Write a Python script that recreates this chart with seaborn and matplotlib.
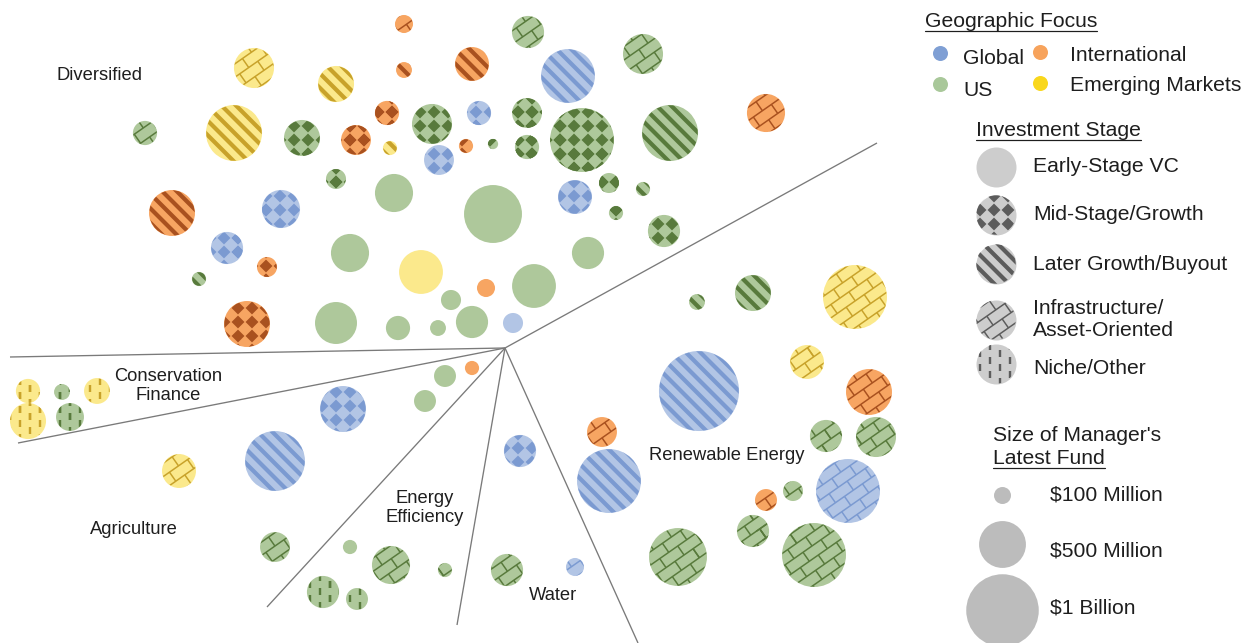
import numpy as np
import pandas as pd
import matplotlib
matplotlib.use("Agg")
import matplotlib.pyplot as plt
import seaborn as sns
from matplotlib.path import Path
from matplotlib.collections import LineCollection, PolyCollection

# ---------------- data ----------------
# layout position of each manager bubble (chart pixel space), fund size ($M), geographic focus, stage
bx = [404, 528, 254, 336, 404, 472, 568, 643, 145, 234, 302, 356, 387, 390, 432, 479, 527, 582, 670, 766,
      439, 466, 493, 527, 336, 394, 493, 172, 281, 575, 609, 643, 616, 664, 227, 350, 588, 199, 267, 421,
      534, 486, 451, 247, 336, 398, 438, 472, 513,
      28, 62, 97, 28, 70,
      343, 275, 179, 275, 350, 323, 357,
      445, 472, 425, 391, 445,
      520, 507, 575,
      697, 753, 855, 699, 807, 869, 602, 826, 876, 609, 848, 766, 793, 753, 678, 814]
by = [24, 32, 68, 84, 70, 64, 76, 54, 133, 133, 138, 140, 113, 148, 124, 113, 113, 140, 133, 113,
      160, 146, 144, 147, 179, 193, 214, 213, 209, 197, 183, 189, 213, 231, 248, 253, 253, 279, 267, 272,
      286, 288, 300, 324, 323, 328, 328, 322, 323,
      391, 392, 391, 421, 417,
      409, 461, 471, 547, 547, 592, 599,
      376, 368, 401, 565, 570,
      451, 570, 567,
      302, 293, 297, 391, 362, 392, 432, 436, 437, 481, 491, 500, 491, 531, 557, 555]
fund = [110, 275, 390, 330, 90, 300, 625, 390, 175, 665, 330, 245, 175, 75, 390, 175, 245, 820, 665, 360,
        245, 75, 45, 175, 130, 360, 700, 485, 360, 300, 130, 75, 75, 275, 275, 360, 275, 75, 130, 450,
        450, 110, 130, 485, 420, 175, 90, 275, 130,
        175, 90, 195, 330, 220,
        485, 740, 300, 245, 75, 275, 150,
        150, 75, 150, 360, 75,
        275, 275, 110,
        90, 330, 820, 1170, 300, 485, 245, 275, 390, 820, 820, 150, 130, 275, 700, 820]
geo = ["Intl", "US", "EM", "EM", "Intl", "Intl", "Global", "US", "US", "EM", "US", "Intl", "Intl", "EM", "US",
       "Global", "US", "US", "US", "Intl",
       "Global", "Intl", "US", "US", "US", "US", "US", "Intl", "Global", "Global", "US", "US", "US", "US",
       "Global", "US", "US", "US", "Intl", "EM",
       "US", "Intl", "US", "Intl", "US", "US", "US", "US", "Global",
       "EM", "US", "EM", "EM", "US",
       "Global", "Global", "EM", "US", "US", "US", "US",
       "US", "Intl", "US", "US", "US",
       "Global", "US", "Global",
       "US", "US", "EM", "Global", "EM", "Intl", "Intl", "US", "US", "Global", "Global", "Intl", "US", "US",
       "US", "US"]
stage = ["Infra", "Infra", "Infra", "Later", "Later", "Later", "Later", "Infra", "Infra", "Later", "Mid", "Mid",
         "Mid", "Later", "Mid", "Mid", "Mid", "Mid", "Later", "Infra",
         "Mid", "Mid", "Mid", "Mid", "Mid", "Early", "Early", "Later", "Mid", "Mid", "Mid", "Later", "Mid", "Mid",
         "Mid", "Early", "Early", "Later", "Mid", "Early",
         "Early", "Early", "Early", "Mid", "Early", "Early", "Early", "Early", "Early",
         "Niche", "Niche", "Niche", "Niche", "Niche",
         "Mid", "Later", "Infra", "Infra", "Early", "Niche", "Niche",
         "Early", "Early", "Early", "Infra", "Infra",
         "Mid", "Infra", "Infra",
         "Later", "Later", "Infra", "Later", "Infra", "Infra", "Infra", "Infra", "Infra", "Later", "Infra",
         "Infra", "Infra", "Infra", "Infra", "Infra"]

sector_names = ["Diversified", "Conservation\nFinance", "Agriculture", "Energy\nEfficiency", "Water",
                "Renewable Energy"]
sector_lx = [99, 168, 134, 425, 553, 727]
sector_ly = [75, 386, 530, 508, 595, 456]

hub = (505, 348)
boundary_x = [10, 18, 267, 457, 638, 877]
boundary_y = [357, 443, 607, 625, 643, 143]

geo_keys = ["Global", "US", "Intl", "EM"]
geo_labels = ["Global", "US", "International", "Emerging Markets"]
stage_keys = ["Early", "Mid", "Later", "Infra", "Niche"]
stage_labels = ["Early-Stage VC", "Mid-Stage/Growth", "Later Growth/Buyout", "Infrastructure/\nAsset-Oriented",
                "Niche/Other"]
size_values = [100, 500, 1000]
size_labels = ["$100 Million", "$500 Million", "$1 Billion"]

# ---------------- styles ----------------
DPI = 80
W, H = 1244, 643
PX = 72.0 / DPI  # points per pixel
base_col = {"Global": "#b2c5e5", "US": "#aec89b", "Intl": "#f7a562", "EM": "#fbe98c"}
dark_col = {"Global": "#7b9ad1", "US": "#587a3c", "Intl": "#a9511f", "EM": "#c8a22a"}
legend_dot = {"Global": "#7f9fd4", "US": "#a9c89a", "Intl": "#f7a35c", "EM": "#f9d71c"}


def diam_px(v):
    return 17.0 * (np.asarray(v, float) / 100.0) ** 0.63


def area_pt(v):
    return (diam_px(v) * PX) ** 2


# ---------- fill patterns (decoration clipped to the bubbles) ----------
def pat_stripes(circles):
    P = 14.5
    segs = []
    for cx, cy, r in circles:
        c0 = cx - cy
        for k in range(int(np.floor((c0 - 1.5 * r) / P)), int(np.ceil((c0 + 1.5 * r) / P)) + 1):
            c = k * P
            fx, fy = (cx + cy + c) / 2.0, (cx + cy - c) / 2.0
            t = r * 1.2
            segs.append([(fx - t, fy - t), (fx + t, fy + t)])
    return LineCollection(segs, linewidths=4.2 * PX, capstyle="butt")


def pat_diamonds(circles):
    p = 14.0
    h = 0.5 * p * 0.92
    polys = []
    for cx, cy, r in circles:
        for i in range(int(np.floor((cx - r) / p)) - 1, int(np.ceil((cx + r) / p)) + 2):
            for j in range(int(np.floor((cy - r) / p)) - 1, int(np.ceil((cy + r) / p)) + 2):
                x, y = i * p, j * p
                polys.append([(x, y - h), (x + h, y), (x, y + h), (x - h, y)])
    return PolyCollection(polys, linewidths=0)


def pat_bricks(circles):
    hgt, L, th = 11.0, 22.0, np.deg2rad(35)
    cs, sn = np.cos(th), np.sin(th)

    def to_xy(u, v):
        return (u * cs + v * sn, -u * sn + v * cs)

    segs = []
    for cx, cy, r in circles:
        uc, vc = cx * cs - cy * sn, cx * sn + cy * cs
        for k in range(int(np.floor((vc - r) / hgt)) - 1, int(np.ceil((vc + r) / hgt)) + 1):
            v = k * hgt
            segs.append([to_xy(uc - r - 2, v), to_xy(uc + r + 2, v)])
            off = (k % 2) * L / 2.0
            for m in range(int(np.floor((uc - r - off) / L)) - 1, int(np.ceil((uc + r - off) / L)) + 1):
                u = m * L + off
                segs.append([to_xy(u, v), to_xy(u, v + hgt)])
    return LineCollection(segs, linewidths=1.5 * PX, capstyle="butt")


def pat_dashes(circles):
    sx, sy, ln = 10.0, 14.0, 7.0
    segs = []
    for cx, cy, r in circles:
        for i in range(int(np.floor((cx - r) / sx)) - 1, int(np.ceil((cx + r) / sx)) + 1):
            off = (i % 2) * sy / 2.0
            for j in range(int(np.floor((cy - r - off) / sy)) - 1, int(np.ceil((cy + r - off) / sy)) + 1):
                y0 = j * sy + off
                segs.append([(i * sx, y0), (i * sx, y0 + ln)])
    return LineCollection(segs, linewidths=2.4 * PX, capstyle="butt")


PATTERNS = {"Mid": pat_diamonds, "Later": pat_stripes, "Infra": pat_bricks, "Niche": pat_dashes}


def add_pattern(ax, xs, ys, diams, st, color):
    circles = [(float(x), float(y), float(d) / 2.0 - 0.3) for x, y, d in zip(xs, ys, diams)]
    coll = PATTERNS[st](circles)
    if isinstance(coll, PolyCollection):
        coll.set_facecolor(color)
    else:
        coll.set_color(color)
    coll.set_zorder(3)
    ax.add_collection(coll, autolim=False)
    clip = Path.make_compound_path(*[Path.circle((x, y), r) for x, y, r in circles])
    coll.set_clip_path(clip, ax.transData)


sns.set_theme(style="white")
plt.rcParams["font.family"] = ["Liberation Sans", "DejaVu Sans"]

fig = plt.figure(figsize=(W / DPI, H / DPI), dpi=DPI)
ax = fig.add_axes([0, 0, 1, 1])
ax.set_xlim(0, W)
ax.set_ylim(H, 0)

df = pd.DataFrame({"x": bx, "y": by, "fund": fund, "geo": geo, "stage": stage})
df["area"] = area_pt(df["fund"])
df["diam"] = diam_px(df["fund"])
amin, amax = df["area"].min(), df["area"].max()

sns.scatterplot(data=df, x="x", y="y", hue="geo", palette=base_col, size="area",
                sizes=(amin, amax), size_norm=(amin, amax), linewidth=0, legend=False, ax=ax)

for (g, st), sub in df[df["stage"] != "Early"].groupby(["geo", "stage"]):
    add_pattern(ax, sub["x"], sub["y"], sub["diam"], st, dark_col[g])

# sector boundaries
for ex, ey in zip(boundary_x, boundary_y):
    ax.plot([hub[0], ex], [hub[1], ey], color="#7a7a7a", lw=1.2, zorder=0, solid_capstyle="butt")

for name, lx, ly in zip(sector_names, sector_lx, sector_ly):
    ax.text(lx, ly, name, ha="center", va="center", fontsize=16.5, color="#1e1e1e",
            linespacing=1.15, zorder=5)

# ---------------- legend ----------------
LFS = 19
txt_col = "#1e1e1e"
underlined = []
t = ax.text(925, 27, "Geographic Focus", fontsize=LFS, color=txt_col, va="baseline", ha="left")
underlined.append(t)
geo_dx = [940, 940, 1040, 1040]
geo_dy = [53, 84, 52, 83]
geo_tx = [963, 963, 1070, 1070]
geo_ty = [64, 96, 61, 91]
for k, lab, dx, dy, tx, ty in zip(geo_keys, geo_labels, geo_dx, geo_dy, geo_tx, geo_ty):
    ax.scatter([dx], [dy], s=(15 * PX) ** 2, color=legend_dot[k], linewidths=0)
    ax.text(tx, ty, lab, fontsize=LFS, color=txt_col, va="baseline", ha="left")

t = ax.text(976, 136, "Investment Stage", fontsize=LFS, color=txt_col, va="baseline", ha="left")
underlined.append(t)
st_y = [167, 215, 264, 320, 364]
st_ty = [167, 215, 264, 320, 369]
leg_d = 40.0
for k, lab, yy, ty in zip(stage_keys, stage_labels, st_y, st_ty):
    ax.scatter([996], [yy], s=(leg_d * PX) ** 2, color="#cdcdcd", linewidths=0, zorder=2)
    if k != "Early":
        add_pattern(ax, [996], [yy], [leg_d], k, "#5c5c5c")
    ax.text(1033, ty, lab, fontsize=LFS, color=txt_col, va="center", ha="left", linespacing=1.2)

ax.text(993, 441, "Size of Manager's", fontsize=LFS, color=txt_col, va="baseline", ha="left")
t = ax.text(993, 464, "Latest Fund", fontsize=LFS, color=txt_col, va="baseline", ha="left")
underlined.append(t)
sz_y = [495, 544, 610]
sz_ty = [495, 551, 608]
for v, lab, yy, ty in zip(size_values, size_labels, sz_y, sz_ty):
    ax.scatter([1002], [yy], s=area_pt(v), color="#bcbcbc", linewidths=0)
    ax.text(1050, ty, lab, fontsize=LFS, color=txt_col, va="center", ha="left")

ax.set_xlim(0, W)
ax.set_ylim(H, 0)
ax.set_axis_off()

fig.canvas.draw()
r = fig.canvas.get_renderer()
inv = ax.transData.inverted()
for t in underlined:
    bb = t.get_window_extent(r)
    (x0, y0), (x1, _) = inv.transform([(bb.x0, bb.y0), (bb.x1, bb.y1)])
    ax.plot([x0, x1], [y0 - 0.5, y0 - 0.5], color=txt_col, lw=1.1)

fig.savefig("out.png", dpi=DPI)
